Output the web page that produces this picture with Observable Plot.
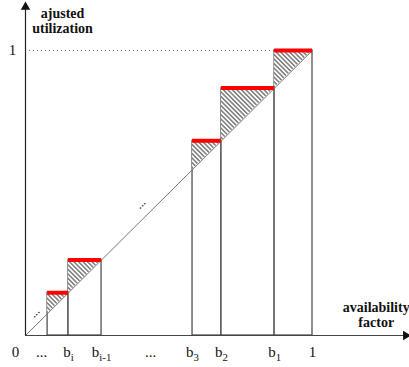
<!DOCTYPE html>
<html><head><meta charset="utf-8">
<script src="https://cdn.jsdelivr.net/npm/d3@7"></script>
<script src="https://cdn.jsdelivr.net/npm/@observablehq/plot@0.6"></script>
<style>html,body{margin:0;padding:0;background:#fff;overflow:hidden;}
svg text, svg tspan{font-family:"Liberation Serif","Times New Roman",serif !important;}</style>
</head><body><div id="chart"></div>
<script>
// step bars: [start, end], each bar's height equals its end value
const barStart = [0.077, 0.150, 0.582, 0.683, 0.868];
const barEnd   = [0.150, 0.265, 0.683, 0.868, 1.000];
// x tick labels
const tickValues = [0.056, 0.150, 0.265, 0.436, 0.582, 0.683, 0.868, 1];
const tickLabels = ["...", "b_i", "b_i-1", "...", "b_3", "b_2", "b_1", "1"];
// diagonal ellipsis annotations
const ellipsisX = [0.031, 0.400];
const ellipsisY = [0.081, 0.463];

const bars = barStart.map((s, i) => ({x1: s, x2: barEnd[i]}));
const hatch = bars.flatMap((b, i) => [
  {k: i, x: b.x1, y1: b.x1, y2: b.x2},
  {k: i, x: b.x2, y1: b.x2, y2: b.x2}
]);
const ellipses = ellipsisX.map((x, i) => ({x, y: ellipsisY[i]}));

const svg = Plot.plot({
  width: 409, height: 367,
  marginLeft: 25, marginRight: 1, marginTop: 2, marginBottom: 32,
  x: {domain: [0, 1.3345], axis: null},
  y: {domain: [0, 1.168], axis: null},
  style: {background: "#fff", overflow: "visible", fontFamily: "'Liberation Serif', serif"},
  marks: [
    Plot.ruleY([1], {x1: 0, x2: barStart[4], stroke: "#666", strokeDasharray: "1,3", strokeWidth: 1}),
    Plot.rect(bars, {x1: "x1", x2: "x2", y1: 0, y2: "x2", fill: "white", stroke: "#444", strokeWidth: 1.2}),
    Plot.areaY(hatch, {x: "x", y1: "y1", y2: "y2", z: "k", fill: "url(#hatch)"}),
    Plot.line([[0, 0], [1, 1]], {stroke: "#777", strokeWidth: 1}),
    Plot.ruleY(bars, {y: "x2", x1: "x1", x2: "x2", stroke: "#ff0000", strokeWidth: 4}),
    // axes
    Plot.ruleY([0], {x1: 0, x2: 1.322, stroke: "#444", strokeWidth: 1.2}),
    Plot.ruleX([0], {y1: 0, y2: 1.145, stroke: "#222", strokeWidth: 1.2}),
    Plot.dot([[0, 1.152]], {symbol: "triangle", r: 3.5, fill: "#111", stroke: "none"}),
    Plot.dot([[1.325, 0]], {symbol: "triangle", r: 3.5, fill: "#111", stroke: "none", rotate: 90}),
    // tick labels
    Plot.text(tickValues, {x: d => d, y: 0, text: (d, i) => tickLabels[i], dy: 17, fontSize: 15, fill: "#111", lineAnchor: "middle"}),
    Plot.text(["0"], {x: 0, y: 0, text: d => d, dx: -10, dy: 17, fontSize: 15, fill: "#111", lineAnchor: "middle"}),
    Plot.text(["1"], {x: 0, y: 1, text: d => d, dx: -13, fontSize: 15, fill: "#111", lineAnchor: "middle"}),
    Plot.text(ellipses, {x: "x", y: "y", text: () => "...", rotate: -45, fontSize: 12, fill: "#111", lineAnchor: "middle"}),
    // axis titles
    Plot.text(["ajusted\nutilization"], {x: 0.129, y: 1.105, text: d => d, fontSize: 14, fontWeight: "bold", fill: "#111", lineHeight: 1.08, lineAnchor: "middle"}),
    Plot.text(["availability\nfactor"], {x: 1.222, y: 0.074, text: d => d, fontSize: 14, fontWeight: "bold", fill: "#111", lineHeight: 1.08, lineAnchor: "middle"})
  ]
});

const s = d3.select(svg);
const defs = s.insert("defs", ":first-child");
const p = defs.append("pattern").attr("id", "hatch").attr("patternUnits", "userSpaceOnUse")
  .attr("width", 6).attr("height", 3.2).attr("patternTransform", "rotate(45)");
p.append("rect").attr("width", 6).attr("height", 3.2).attr("fill", "white");
p.append("line").attr("x1", 0).attr("x2", 6).attr("y1", 1.6).attr("y2", 1.6).attr("stroke", "#222").attr("stroke-width", 0.9);

// subscripts
s.selectAll("text").each(function () {
  if (this.querySelector("tspan")) return;
  const t = this.textContent;
  const m = t.match(/^(.*?)_(.+)$/);
  if (m) {
    const el = d3.select(this);
    el.text(null);
    el.append("tspan").text(m[1]);
    el.append("tspan").attr("dy", "0.3em").attr("font-size", "0.72em").text(m[2]);
  }
});
s.selectAll("text").style("font-family", "'Liberation Serif', serif");

document.getElementById("chart").appendChild(svg);
</script>
</body></html>
